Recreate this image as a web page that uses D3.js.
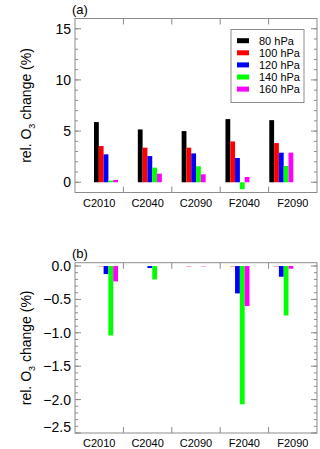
<!DOCTYPE html>
<html>
<head>
<meta charset="utf-8">
<script src="https://cdn.jsdelivr.net/npm/d3@7"></script>
<style>
  body { margin: 0; background: #fff; }
  svg { font-family: 'Liberation Sans', Arial, sans-serif; }
</style>
</head>
<body>
<div id="chart"></div>
<script>
const categories = ['C2010', 'C2040', 'C2090', 'F2040', 'F2090']
const levels = ['80 hPa', '100 hPa', '120 hPa', '140 hPa', '160 hPa']
const colors = ['#000000', '#ff0000', '#0000ff', '#00ff00', '#ff00ff']

// panel (a): rows = levels, cols = categories
const changeA = [
  [5.88, 5.16, 5.00, 6.17, 6.07],
  [3.54, 3.38, 3.38, 3.99, 3.83],
  [2.73, 2.56, 2.82, 2.37, 2.89],
  [0.16, 1.43, 1.56, -0.68, 1.59],
  [0.23, 0.84, 0.78, 0.52, 2.89]
]
// panel (b)
const changeB = [
  [0.0, 0.0, 0.0, 0.0, 0.0],
  [-0.005, 0.0, -0.005, -0.005, -0.005],
  [-0.12, -0.03, 0.0, -0.41, -0.16],
  [-1.04, -0.20, 0.0, -2.07, -0.74],
  [-0.23, 0.0, -0.005, -0.60, -0.04]
]
const ticksA = [0, 5, 10, 15]
const ticksB = [0, -0.5, -1.0, -1.5, -2.0, -2.5]

const width = 320
const height = 449

const svg = d3.select('#chart')
  .append('svg')
  .attr('width', width)
  .attr('height', height)

function drawPanel (cfg) {
  const g = svg.append('g')
  const left = 75
  const right = 317

  const y = d3.scaleLinear().domain(cfg.domain).range([cfg.bottom, cfg.top])
  const xLab = d3.scaleBand().domain(categories).range([left, right])
  // bar groups sit on their own band, slightly offset from the label slots
  const xBar = d3.scaleBand().domain(categories).range([94, 293.3]).paddingInner(0.452)
  const xSub = d3.scaleBand().domain(d3.range(levels.length)).range([0, xBar.bandwidth()])

  // bars
  cfg.data.forEach((row, i) => {
    g.selectAll(null)
      .data(row)
      .enter()
      .append('rect')
      .attr('x', (d, j) => xBar(categories[j]) + xSub(i))
      .attr('width', xSub.bandwidth())
      .attr('y', d => y(Math.max(0, d)))
      .attr('height', d => Math.abs(y(d) - y(0)))
      .attr('fill', colors[i])
  })

  // frame
  g.append('rect')
    .attr('x', left)
    .attr('y', cfg.top)
    .attr('width', right - left)
    .attr('height', cfg.bottom - cfg.top)
    .attr('fill', 'none')
    .attr('stroke', '#8c8c8c')

  // y ticks, both sides, inward
  const minor = d3.range(Math.ceil(cfg.domain[0] / cfg.minorStep), Math.floor(cfg.domain[1] / cfg.minorStep) + 1)
    .map(k => k * cfg.minorStep)
  g.selectAll(null).data(minor).enter().append('path')
    .attr('d', d => `M${left},${y(d)}h3M${right},${y(d)}h-3`)
    .attr('stroke', '#8c8c8c')
  g.selectAll(null).data(cfg.ticks).enter().append('path')
    .attr('d', d => `M${left},${y(d)}h6M${right},${y(d)}h-6`)
    .attr('stroke', '#8c8c8c')
  g.selectAll(null).data(cfg.ticks).enter().append('text')
    .attr('x', left - 4)
    .attr('y', d => y(d) + 5 + (d === cfg.domain[0] ? -6 : 0))
    .attr('text-anchor', 'end')
    .attr('font-size', 14)
    .text(cfg.fmt)

  // x separators, top and bottom
  const seps = categories.slice(1).map(c => xLab(c))
  g.selectAll(null).data(seps).enter().append('path')
    .attr('d', d => `M${d},${cfg.bottom}v-6M${d},${cfg.top}v6`)
    .attr('stroke', '#8c8c8c')
  g.selectAll(null).data(categories).enter().append('text')
    .attr('x', d => xLab(d) + xLab.bandwidth() / 2)
    .attr('y', cfg.bottom + 14)
    .attr('text-anchor', 'middle')
    .attr('font-size', 11)
    .text(d => d)

  // panel tag
  g.append('text')
    .attr('x', 72)
    .attr('y', cfg.top - 5)
    .attr('font-size', 13)
    .text(cfg.tag)

  // y title
  const t = g.append('text')
    .attr('transform', `translate(31,${(cfg.top + cfg.bottom) / 2}) rotate(-90)`)
    .attr('text-anchor', 'middle')
    .attr('font-size', 14)
  t.append('tspan').text('rel. O')
  t.append('tspan').attr('font-size', 9).attr('dy', 4).text('3')
  t.append('tspan').attr('dy', -4).text(' change (%)')
  return { y }
}

drawPanel({
  data: changeA, domain: [-1, 16], top: 18.5, bottom: 192.5,
  ticks: ticksA, minorStep: 1, fmt: d => d3.format('d')(d), tag: '(a)'
})
drawPanel({
  data: changeB, domain: [-2.5, 0.05], top: 262.7, bottom: 433,
  ticks: ticksB, minorStep: 0.1, fmt: d => d3.format('.1f')(d).replace('-', '−'), tag: '(b)'
})

// legend
const legend = svg.append('g')
legend.append('rect')
  .attr('x', 231).attr('y', 29.5)
  .attr('width', 73).attr('height', 73)
  .attr('fill', '#fff').attr('stroke', '#8c8c8c')
const rows = legend.selectAll(null).data(levels).enter().append('g')
  .attr('transform', (d, i) => `translate(237,${40.7 + i * 12.1})`)
rows.append('rect')
  .attr('x', 0).attr('y', -2.5).attr('width', 12).attr('height', 5)
  .attr('fill', (d, i) => colors[i])
rows.append('text')
  .attr('x', 22).attr('y', 4)
  .attr('font-size', 11)
  .text(d => d)
</script>
</body>
</html>
